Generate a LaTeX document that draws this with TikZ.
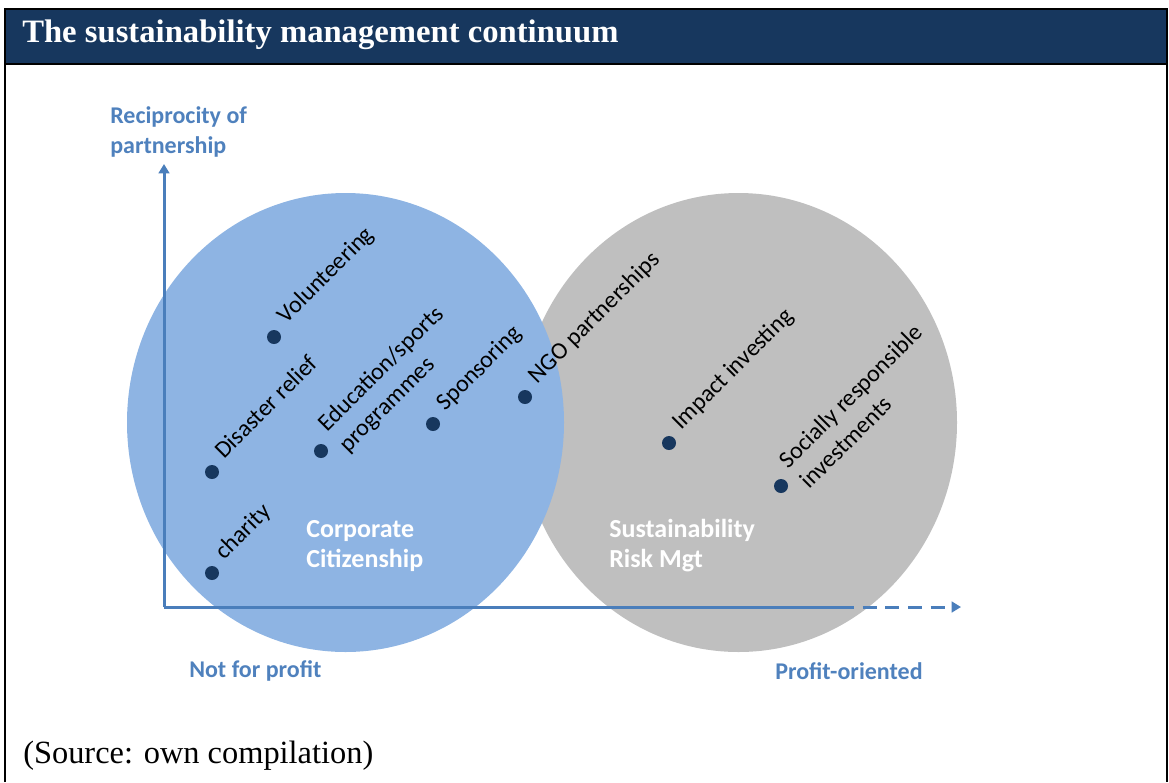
\documentclass[tikz,border=0pt]{standalone}
\usepackage{fontspec}
\setmainfont{Liberation Serif}
\newfontfamily\calfont{Carlito}
\usetikzlibrary{arrows.meta}
\usetikzlibrary{positioning}
\definecolor{navy}{HTML}{17375E}
\definecolor{axisblue}{HTML}{4A7EBB}
\definecolor{textblue}{HTML}{4F81BD}
\definecolor{circblue}{HTML}{8EB4E3}
\definecolor{circgray}{HTML}{BFBFBF}
\tikzset{dot/.style = {fill = navy, circle, inner sep = 0, minimum size = 10.5pt}}
\tikzset{lbl/.style = {rotate = 45, anchor = base west, align = left, inner xsep = 13pt, inner ysep = 0,
                       font = \calfont\fontsize{18}{22}\selectfont}}
\tikzset{lbltwo/.style = {lbl, anchor = west}}
\tikzset{axislbl/.style = {text = textblue, anchor = west, align = left, inner sep = 0,
                           font = \calfont\bfseries\fontsize{18}{22}\selectfont}}
\tikzset{circlbl/.style = {text = white, anchor = west, align = left, inner sep = 0,
                           font = \calfont\bfseries\fontsize{19.5}{22.5}\selectfont}}
\tikzset{axis/.style = {draw = axisblue, line width = 2.25pt}}
\tikzset{tip/.style = {-{Triangle[length = 7pt, width = 8pt]}}}

\begin{document}
\begin{tikzpicture}[x = 0.75pt, y = -0.75pt]
    \useasboundingbox (0, 0) rectangle (1169, 782);
    % frame and heading
    \draw [black, line width = 1.5pt] (5, 782) -- (5, 9) -- (1167, 9) -- (1167, 782);
    \draw [fill = navy, draw = black, line width = 1.5pt] (5, 9) rectangle (1167, 64);
    \node [anchor = west, text = white, inner sep = 0,
           font = \bfseries\fontsize{24.5}{27}\selectfont] (head) at (22, 35) {The sustainability management continuum};
    \node [anchor = west, inner sep = 0, font = \fontsize{24.3}{28}\selectfont] (src) at (23, 756) {(Source: own compilation)};

    % the two circles
    \fill [circgray] (738.5, 422.5) ellipse [x radius = 218.5, y radius = 229.5];
    \fill [circblue] (345.5, 422.5) ellipse [x radius = 218.5, y radius = 229.5];

    % axes
    \coordinate (o) at (164, 607);
    \coordinate (ytop) at (164, 164);
    \coordinate (xmid) at (840, 607);
    \coordinate (xend) at (961, 607);
    \draw [axis, tip] (o) -- (ytop);
    \draw [axis] (o) -- (xmid);
    \draw [axis, tip, dash pattern = on 10.5pt off 6.5pt] (xmid) -- (xend);

    \node [axislbl] (recip) at (110, 132) {Reciprocity of\\partnership};
    \node [axislbl] (nfp) at (189, 671) {Not for profit};
    \node [axislbl] (po) at (775, 671) {Profit-oriented};
    \node [circlbl] (cc) at (306, 546) {Corporate\\Citizenship};
    \node [circlbl] (srm) at (609, 546) {Sustainability\\Risk Mgt};

    % activities
    \node [dot] (vol) at (274, 337) {};
    \node [dot] (dis) at (212, 472) {};
    \node [dot] (edu) at (321, 451) {};
    \node [dot] (spo) at (433, 424) {};
    \node [dot] (ngo) at (525, 397) {};
    \node [dot] (imp) at (669, 443) {};
    \node [dot] (sri) at (781, 486) {};
    \node [dot] (cha) at (212, 573) {};

    \node [lbl] (lvol) at (vol.center) {Volunteering};
    \node [lbl] (ldis) at (dis.center) {Disaster relief};
    \node [lbltwo] (ledu) at (edu.center) {Education/sports\\programmes};
    \node [lbl] (lspo) at (spo.center) {Sponsoring};
    \node [lbl] (lngo) at (ngo.center) {NGO partnerships};
    \node [lbl] (limp) at (imp.center) {Impact investing};
    \node [lbltwo] (lsri) at (sri.center) {Socially responsible\\investments};
    \node [lbl] (lcha) at (cha.center) {charity};
\end{tikzpicture}
\end{document}
